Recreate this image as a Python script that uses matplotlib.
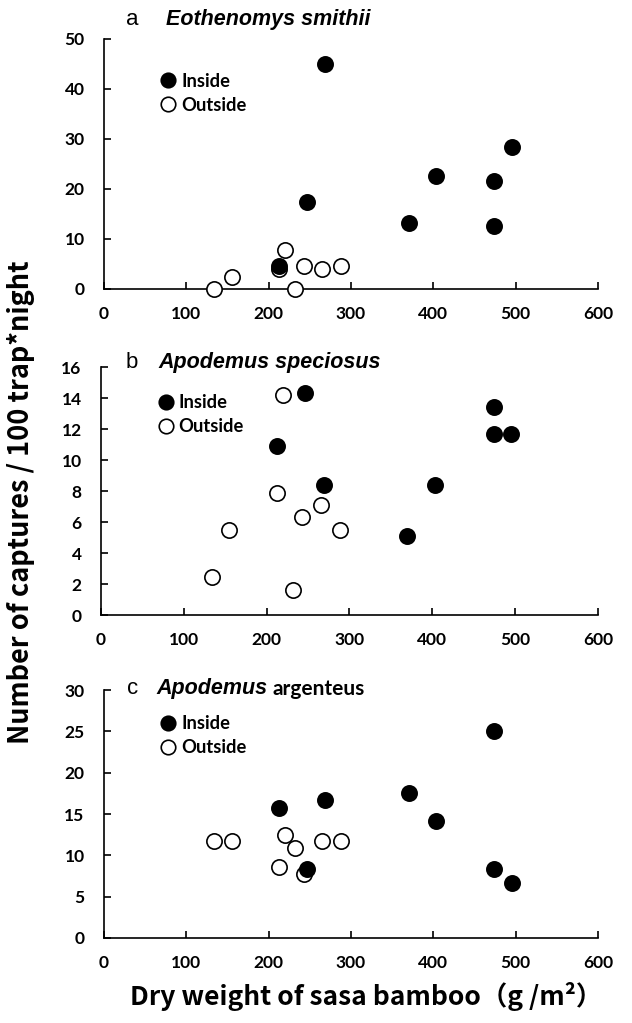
import matplotlib
matplotlib.use("Agg")
import matplotlib.pyplot as plt
from matplotlib.font_manager import FontProperties

# site dry weight of sasa bamboo (g/m2)
x_inside = [212, 246, 269, 370, 403, 474, 474, 495]
x_outside = [134, 155, 213, 220, 232, 243, 265, 288]

# captures / 100 trap*night
a_inside = [4.5, 17.3, 45.0, 13.2, 22.5, 21.5, 12.5, 28.3]
a_outside = [0.0, 2.4, 4.0, 7.8, 0.0, 4.6, 3.9, 4.6]
b_inside = [10.9, 14.3, 8.4, 5.1, 8.4, 13.4, 11.7, 11.7]
b_outside = [2.45, 5.5, 7.9, 14.2, 1.6, 6.35, 7.1, 5.5]
c_inside = [15.7, 8.4, 16.7, 17.5, 14.2, 25.1, 8.4, 6.7]
c_outside = [11.7, 11.7, 8.6, 12.5, 10.9, 7.8, 11.7, 11.7]

panels = [
    dict(letter='a', name='Eothenomys smithii', extra='', yin=a_inside, yout=a_outside,
         ymax=50, ystep=10, rect=[0.1646, 0.7175, 0.7816, 0.2444],
         letter_xy=(0.057, 1.076), name_x=0.125, extra_x=None, leg_y=0.865),
    dict(letter='b', name='Apodemus speciosus', extra='', yin=b_inside, yout=b_outside,
         ymax=16, ystep=2, rect=[0.1598, 0.3988, 0.7864, 0.2424],
         letter_xy=(0.062, 1.02), name_x=0.115, extra_x=None, leg_y=0.89),
    dict(letter='c', name='Apodemus', extra='argenteus', yin=c_inside, yout=c_outside,
         ymax=30, ystep=5, rect=[0.1646, 0.0831, 0.7816, 0.2424],
         letter_xy=(0.057, 1.008), name_x=0.107, extra_x=0.342, leg_y=0.898),
]

fig = plt.figure(figsize=(6.32, 10.23), dpi=100)

tick_font = FontProperties(family='Lato', weight='bold', size=12.5)

for p in panels:
    ax = fig.add_axes(p['rect'])
    ax.plot(x_outside, p['yout'], 'o', ms=11, mfc='white', mec='black', mew=1.2,
            label='Outside', zorder=3, clip_on=False)
    ax.plot(x_inside, p['yin'], 'o', ms=11, mfc='black', mec='black', mew=1.2,
            label='Inside', zorder=4, clip_on=False)
    ax.set_xlim(0, 600)
    ax.set_ylim(0, p['ymax'])
    ax.set_xticks(range(0, 601, 100))
    ax.set_yticks(range(0, p['ymax'] + 1, p['ystep']))
    for s in ['top', 'right']:
        ax.spines[s].set_visible(False)
    for s in ['left', 'bottom']:
        ax.spines[s].set_linewidth(1.2)
    ax.tick_params(direction='in', length=5, width=1.2, pad=12)
    ax.tick_params(axis='y', pad=14)
    for lab in ax.get_xticklabels() + ax.get_yticklabels():
        lab.set_fontproperties(tick_font)

    h, l = ax.get_legend_handles_labels()
    ax.legend(h[::-1], l[::-1], loc='upper left', bbox_to_anchor=(0.117, p['leg_y']),
              frameon=False, borderaxespad=0, borderpad=0, handlelength=0.7,
              handletextpad=0.35, labelspacing=0.38, markerscale=0.95,
              prop=dict(family='Lato', weight='bold', size=13.2))

    lx, ly = p['letter_xy']
    ax.text(lx, ly, p['letter'], transform=ax.transAxes, ha='center', va='center',
            family='Liberation Sans', size=16)
    ax.text(p['name_x'], ly, p['name'], transform=ax.transAxes, ha='left', va='center',
            family='Liberation Sans', weight='bold', style='italic', size=15.5)
    if p['extra']:
        ax.text(p['extra_x'], ly - 0.005, p['extra'], transform=ax.transAxes, ha='left',
                va='center', family='Lato', weight='bold', size=15)

fig.text(0.033, 0.509, 'Number of captures / 100 trap*night', rotation=90,
         ha='center', va='center', family='Noto Sans CJK JP', weight='bold', size=19.5)
fig.text(0.579, 0.026, 'Dry weight of sasa bamboo（g /m²）', ha='center', va='center',
         family='Noto Sans CJK JP', weight='bold', size=19)

fig.savefig('out.png', dpi=100)
